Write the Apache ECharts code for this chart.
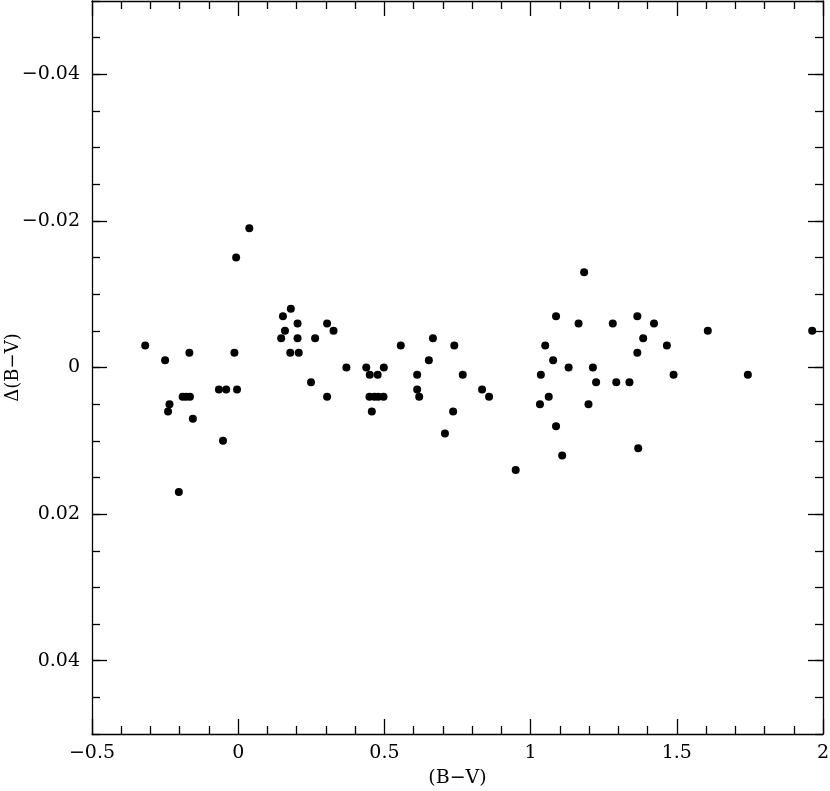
<!DOCTYPE html>
<html>
<head>
<meta charset="utf-8">
<script src="https://cdn.jsdelivr.net/npm/echarts@6/dist/echarts.min.js"></script>
<style>html,body{margin:0;padding:0;background:#fff}#c{width:830px;height:791px}</style>
</head>
<body>
<div id="c"></div>
<script>
const bvValues = [-0.318,-0.25,-0.235,-0.24,-0.167,-0.19,-0.178,-0.165,-0.155,-0.203,
  -0.066,-0.041,-0.004,-0.052,-0.013,-0.007,0.038,0.153,0.18,0.16,
  0.147,0.203,0.203,0.178,0.207,0.263,0.249,0.304,0.326,0.304,
  0.37,0.438,0.498,0.45,0.477,0.449,0.466,0.479,0.497,0.457,
  0.556,0.612,0.612,0.619,0.652,0.666,0.739,0.768,0.735,0.707,
  0.834,0.858,0.949,1.035,1.032,1.05,1.062,1.077,1.087,1.087,
  1.108,1.13,1.164,1.183,1.198,1.213,1.224,1.281,1.293,1.338,
  1.365,1.385,1.365,1.368,1.422,1.466,1.489,1.606,1.743,1.963];
const dbvValues = [-0.003,-0.001,0.005,0.006,-0.002,0.004,0.004,0.004,0.007,0.017,
  0.003,0.003,0.003,0.010,-0.002,-0.015,-0.019,-0.007,-0.008,-0.005,
  -0.004,-0.006,-0.004,-0.002,-0.002,-0.004,0.002,-0.006,-0.005,0.004,
  0,0,0,0.001,0.001,0.004,0.004,0.004,0.004,0.006,
  -0.003,0.001,0.003,0.004,-0.001,-0.004,-0.003,0.001,0.006,0.009,
  0.003,0.004,0.014,0.001,0.005,-0.003,0.004,-0.001,-0.007,0.008,
  0.012,0,-0.006,-0.013,0.005,0,0.002,-0.006,0.002,0.002,
  -0.007,-0.004,-0.002,0.011,-0.006,-0.003,0.001,-0.005,0.001,-0.005];
const yMajorTicks = [-0.04,-0.02,0,0.02,0.04];

const points = bvValues.map((x,i)=>[x, dbvValues[i]]);
const fmt = v => String(+v.toFixed(3)).replace('-', '\u2212');
const font = 'DejaVu Serif';
const lineStyle = {color:'#000', width:1.3};

function xAx(pos, labels){
  return {
    type:'value', position:pos, min:-0.5, max:2, interval:0.5,
    axisLine:{show:true, onZero:false, lineStyle},
    axisTick:{show:true, inside:true, length:15, lineStyle},
    minorTick:{show:true, splitNumber:5, length:8, lineStyle},
    splitLine:{show:false}, minorSplitLine:{show:false},
    axisLabel:{show:labels, formatter:fmt, color:'#000', fontFamily:font, fontSize:19, margin:10},
    name: labels ? '(B\u2212V)' : '', nameLocation:'middle', nameGap:35, nameMoveOverlap:false,
    nameTextStyle:{color:'#000', fontFamily:font, fontSize:19}
  };
}
function yAxMajor(pos, labels){
  return {
    type:'value', position:pos, inverse:true, min:-0.05, max:0.05,
    axisLine:{show:true, onZero:false, lineStyle},
    axisTick:{show:true, inside:true, length:15, lineStyle, customValues:yMajorTicks},
    splitLine:{show:false},
    axisLabel:{show:labels, customValues:yMajorTicks, formatter:fmt, color:'#000', fontFamily:font, fontSize:19, margin:12},
    name: labels ? '\u0394(B\u2212V)' : '', nameLocation:'middle', nameGap:70, nameMoveOverlap:false,
    nameTextStyle:{color:'#000', fontFamily:font, fontSize:18}
  };
}
function yAxMinor(pos){
  return {
    type:'value', position:pos, inverse:true, min:-0.05, max:0.05, interval:0.005,
    axisLine:{show:false, onZero:false},
    axisTick:{show:true, inside:true, length:8, lineStyle},
    splitLine:{show:false},
    axisLabel:{show:false}
  };
}

const chart = echarts.init(document.getElementById('c'));
chart.setOption({
  animation:false,
  backgroundColor:'#fff',
  grid:{left:92, right:7, top:1, bottom:57, containLabel:false, outerBoundsMode:'none'},
  xAxis:[xAx('bottom', true), xAx('top', false)],
  yAxis:[yAxMajor('left', true), yAxMinor('left'), yAxMajor('right', false), yAxMinor('right')],
  series:[{
    type:'scatter', xAxisIndex:0, yAxisIndex:0,
    data:points, symbol:'circle', symbolSize:8,
    itemStyle:{color:'#000', opacity:1}
  }]
});
</script>
</body>
</html>
